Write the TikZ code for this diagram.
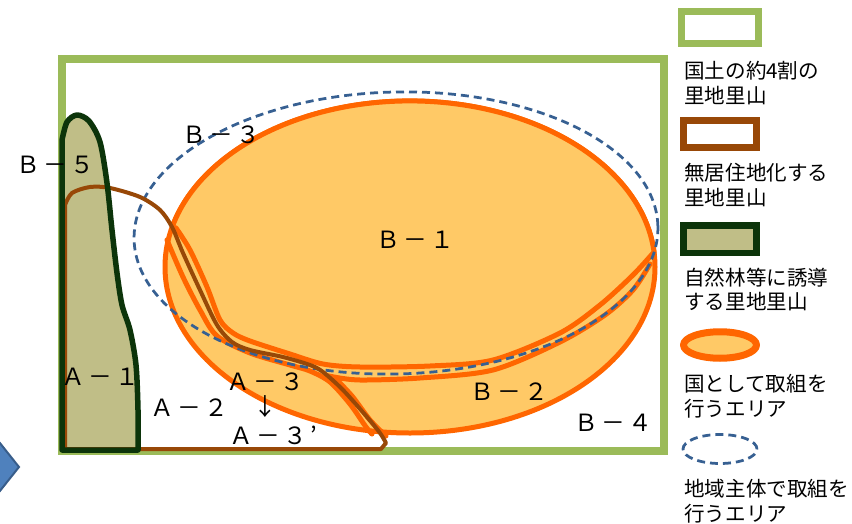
\documentclass[tikz,border=0pt]{standalone}
\usepackage{fontspec}
\setmainfont{Noto Sans CJK JP}
\newfontfamily\lblfont[LetterSpace=14]{Noto Sans CJK JP}
\usetikzlibrary{shapes.geometric}

\definecolor{landgreen}{RGB}{155,187,89}
\definecolor{vacbrown}{RGB}{152,72,7}
\definecolor{forestline}{RGB}{12,52,10}
\definecolor{forestfill}{RGB}{192,190,135}
\definecolor{natline}{RGB}{255,102,0}
\definecolor{natfill}{RGB}{255,201,102}
\definecolor{localblue}{RGB}{55,96,146}
\definecolor{arrowblue}{RGB}{79,129,189}
\definecolor{arrowedge}{RGB}{56,93,138}

\newcommand{\forestshape}{(62,450) -- (62,140) -- plot[smooth] coordinates {(62,140) (67,122) (77,115) (89,121) (100,142) (107,183) (112,230) (117,273) (122,305) (130,330) (136,365) (138,410) (138,450)} -- cycle}

\begin{document}
\begin{tikzpicture}[
  x=0.02cm,y=-0.02cm,
  frame/.style={draw=landgreen,line width=0.15cm},
  vacant/.style={draw=vacbrown,line width=0.08cm,line join=round},
  forest/.style={draw=forestline,line width=0.11cm,line join=round},
  national/.style={draw=natline,line width=0.1cm,fill=natfill,line join=round},
  natedge/.style={draw=natline,line width=0.1cm,line cap=round},
  local/.style={draw=localblue,line width=0.055cm,dash pattern=on 0.16cm off 0.1cm},
  area/.style={font=\lblfont\fontsize{13.5}{16}\selectfont,inner sep=0pt},
  legbox/.style={minimum width=1.46cm,minimum height=0.56cm,line width=0.14cm,inner sep=0pt},
  legtext/.style={anchor=west,align=left,inner sep=0pt,font=\fontsize{11.7}{14.2}\selectfont}
]
\useasboundingbox (0,0) rectangle (852,524);

\draw[frame] (62,59) rectangle (664,451);
\draw[draw=arrowedge,fill=arrowblue,line width=0.04cm] (19,467) -- (-20,418) -- (-59,467) -- (-20,516) -- cycle;

\draw[national] (410,267) ellipse [x radius=245, y radius=166];
\draw[national] (172.3,226.8) arc[start angle=-166, end angle=-5, x radius=245, y radius=166]
  -- plot[smooth] coordinates {(654,252) (633,275) (600,305) (560,333) (493,360) (430,366) (360,367) (323,364) (290,354) (250,341) (233,333) (220,320) (207,287) (190,250) (176,228)} -- cycle;
\draw[natedge] plot[smooth] coordinates {(167,240) (183,277) (200,310) (217,336) (250,353) (290,365) (310,371) (330,382) (350,404) (366,427) (372,434)};
\draw[natedge] plot[smooth] coordinates {(386,436) (370,420) (352,396) (334,377)}
  -- plot[smooth] coordinates {(334,377) (360,380) (420,378) (493,370) (560,342) (605,315) (633,290) (650,264)};

\draw[local,rotate around={1.5:(396,233)}] (396,233) ellipse [x radius=262, y radius=141];

\fill[forestfill] \forestshape;
\draw[vacant] (65,449) -- (65,205) -- plot[smooth] coordinates {(65,205) (72,193) (90,187) (110,188) (140,197) (160,210) (172,227) (183,253) (200,290) (217,325) (232,342) (250,350) (283,357) (310,365) (323,372) (343,390) (367,417) (380,433) (386,443)} -- (381,449) -- cycle;
\draw[forest] \forestshape;

\node[area] (b5) at (55,165) {Ｂ－５};
\node[area] (b3) at (221,135) {Ｂ－３};
\node[area] (b1) at (415,240) {Ｂ－１};
\node[area] (b2) at (509,392) {Ｂ－２};
\node[area] (b4) at (613,423) {Ｂ－４};
\node[area] (a1) at (100,377) {Ａ－１};
\node[area] (a2) at (189,408) {Ａ－２};
\node[area] (a3) at (265,382) {Ａ－３};
\node[area] (a3arrow) at (265,407) {↓};
\node[area] (a3p) at (273,435) {Ａ－３’};

\node[legbox,draw=landgreen,minimum width=1.53cm,minimum height=0.63cm] (kland) at (720,27.5) {};
\node[legtext] (tland) at (684,83) {国土の約4割の\\里地里山};
\node[legbox,draw=vacbrown] (kvac) at (720,134) {};
\node[legtext] (tvac) at (684,185.5) {無居住地化する\\里地里山};
\node[legbox,draw=forestline,fill=forestfill] (kforest) at (720,239) {};
\node[legtext] (tforest) at (684,289.5) {自然林等に誘導\\する里地里山};
\node[ellipse,national,line width=0.14cm,minimum width=1.46cm,minimum height=0.53cm,inner sep=0pt] (knat) at (720,345) {};
\node[legtext] (tnat) at (684,396.5) {国として取組を\\行うエリア};
\node[ellipse,local,minimum width=1.48cm,minimum height=0.58cm,inner sep=0pt] (kloc) at (720,449) {};
\node[legtext] (tloc) at (684,501.5) {地域主体で取組を\\行うエリア};
\end{tikzpicture}
\end{document}
